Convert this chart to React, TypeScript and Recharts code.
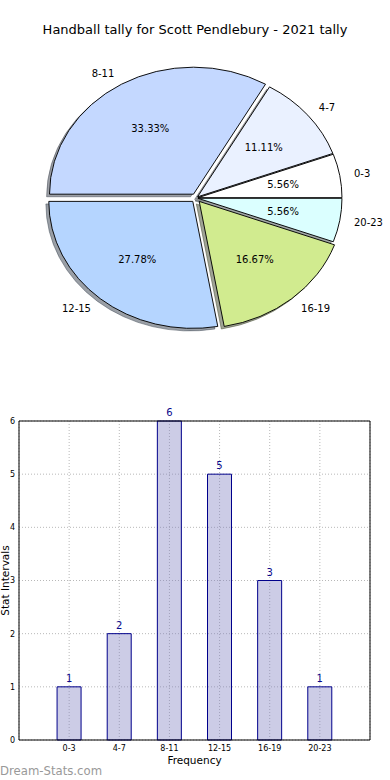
import React from 'react';
import { PieChart, Pie, Cell, BarChart, Bar, XAxis, YAxis, CartesianGrid, LabelList, Label, ReferenceLine } from 'recharts';

// ---- data ----
const categories = ['0-3', '4-7', '8-11', '12-15', '16-19', '20-23'];
const counts = [1, 2, 6, 5, 3, 1];
const yTicks = [0, 1, 2, 3, 4, 5, 6];
const titleText = 'Handball tally for Scott Pendlebury - 2021 tally';

// ---- styles ----
const sliceColors = ['#ffffff', '#eaf1ff', '#c4d8ff', '#b5d5ff', '#d1eb8f', '#dbffff'];
const explodePx = [2, 2, 5, 5, 5, 2];
const FONT = '"DejaVu Sans", sans-serif';
const CX = 196;
const CY = 198;
const R = 144;
const K = 127 / 144;
const SHADOW = 2.9;

const pieData = categories.map((name, i) => ({ name, value: counts[i] }));
const barData = categories.map((name, i) => ({ x: i + 1, name, v: counts[i] }));
const xTicks = categories.map((_, i) => i + 1);

const total = counts.reduce((a, b) => a + b, 0);
const offsets = (() => {
  let acc = 0;
  return counts.map((c, i) => {
    const mid = ((acc + c / 2) / total) * 360;
    acc += c;
    const rad = (mid * Math.PI) / 180;
    return { dx: explodePx[i] * Math.cos(rad), dy: -explodePx[i] * Math.sin(rad) };
  });
})();

function shade(hex: string) {
  const n = parseInt(hex.slice(1), 16);
  const r = (n >> 16) & 255;
  const g = (n >> 8) & 255;
  const b = n & 255;
  return `rgb(${Math.round(r * 0.3)},${Math.round(g * 0.3)},${Math.round(b * 0.3)})`;
}

function makeLabel(i: number) {
  return (p: any) => {
    if (p.index !== i) return null;
    const rad = (p.midAngle * Math.PI) / 180;
    const c = Math.cos(rad);
    const s = Math.sin(rad);
    const r = p.outerRadius;
    const lx = p.cx + 1.1 * r * c;
    const ly = p.cy - 1.1 * r * s;
    const px = p.cx + 0.6 * r * c;
    const py = p.cy - 0.6 * r * s;
    return (
      <g>
        <text
          transform={`translate(${lx} ${ly}) scale(1 ${1 / K})`}
          textAnchor={c > 0 ? 'start' : 'end'}
          dominantBaseline="central"
          fontSize={10}
          fill="#000"
          fontFamily={FONT}
        >
          {p.name}
        </text>
        <text
          transform={`translate(${px} ${py}) scale(1 ${1 / K})`}
          textAnchor="middle"
          dominantBaseline="central"
          fontSize={10}
          fill="#000"
          fontFamily={FONT}
        >
          {`${(p.percent * 100).toFixed(2)}%`}
        </text>
      </g>
    );
  };
}

export default function App() {
  return (
    <div style={{ position: 'absolute', left: 0, top: 0, width: 390, height: 780, background: '#fff', fontFamily: FONT, overflow: 'hidden' }}>
      <div style={{ position: 'absolute', left: 0, top: 22, width: 390, textAlign: 'center', fontSize: 13, lineHeight: '15px', color: '#000' }}>
        {titleText}
      </div>

      <div style={{ position: 'absolute', left: 0, top: 0, width: 390, height: 370, transform: `scaleY(${K})`, transformOrigin: `${CX}px ${CY}px` }}>
        <PieChart width={390} height={370} margin={{ top: 0, right: 0, bottom: 0, left: 0 }}>
          {pieData.map((_, i) => (
            <Pie
              key={'s' + i}
              data={pieData}
              dataKey="value"
              nameKey="name"
              cx={CX + offsets[i].dx - SHADOW}
              cy={CY + offsets[i].dy + SHADOW}
              outerRadius={R}
              startAngle={0}
              endAngle={360}
              isAnimationActive={false}
              label={false}
              labelLine={false}
            >
              {pieData.map((__, j) => (
                <Cell
                  key={j}
                  fill={j === i ? shade(sliceColors[i]) : 'none'}
                  fillOpacity={0.5}
                  stroke={j === i ? shade(sliceColors[i]) : 'none'}
                  strokeOpacity={0.5}
                  strokeWidth={1}
                />
              ))}
            </Pie>
          ))}
          {pieData.map((_, i) => (
            <Pie
              key={'p' + i}
              data={pieData}
              dataKey="value"
              nameKey="name"
              cx={CX + offsets[i].dx}
              cy={CY + offsets[i].dy}
              outerRadius={R}
              startAngle={0}
              endAngle={360}
              isAnimationActive={false}
              label={makeLabel(i)}
              labelLine={false}
            >
              {pieData.map((__, j) => (
                <Cell
                  key={j}
                  fill={j === i ? sliceColors[i] : 'none'}
                  stroke={j === i ? '#000' : 'none'}
                  strokeWidth={1}
                />
              ))}
            </Pie>
          ))}
        </PieChart>
      </div>

      <div style={{ position: 'absolute', left: 0, top: 400 }}>
        <BarChart width={390} height={380} data={barData} margin={{ top: 21, right: 20, left: 0, bottom: 0 }}>
          <CartesianGrid stroke="#b8b8b8" strokeDasharray="1 2" />
          <XAxis
            dataKey="x"
            type="number"
            domain={[0, xTicks.length + 1]}
            ticks={xTicks}
            tickFormatter={(v: number) => categories[v - 1]}
            tickLine={false}
            tickSize={0}
            tickMargin={5}
            axisLine={{ stroke: '#000' }}
            tick={{ fontSize: 8, fill: '#000', fontFamily: FONT }}
            height={40}
            interval={0}
          >
            <Label
              content={(props: any) => {
                const vb = props.viewBox;
                return (
                  <text x={vb.x + vb.width / 2} y={vb.y + 24} textAnchor="middle" fontSize={10.5} fill="#000" fontFamily={FONT}>
                    Frequency
                  </text>
                );
              }}
            />
          </XAxis>
          <YAxis
            type="number"
            domain={[0, 6]}
            ticks={yTicks}
            width={19}
            tickLine={false}
            tickSize={0}
            tickMargin={4}
            axisLine={{ stroke: '#000' }}
            tick={{ fontSize: 8, fill: '#000', fontFamily: FONT }}
            interval={0}
          >
            <Label
              content={(props: any) => {
                const vb = props.viewBox;
                return (
                  <text
                    transform={`translate(${vb.x + 9} ${vb.y + vb.height / 2}) rotate(-90)`}
                    textAnchor="middle"
                    fontSize={10.5}
                    fill="#000"
                    fontFamily={FONT}
                  >
                    Stat Intervals
                  </text>
                );
              }}
            />
          </YAxis>
          <ReferenceLine y={6} stroke="#000" strokeWidth={1} />
          <ReferenceLine x={xTicks.length + 1} stroke="#000" strokeWidth={1} />
          <Bar dataKey="v" barSize={24} fill="#8080c0" fillOpacity={0.4} stroke="#00008b" strokeWidth={1} isAnimationActive={false}>
            <LabelList dataKey="v" position="top" offset={5} fill="#0a0a8c" fontSize={10} fontFamily={FONT} />
          </Bar>
        </BarChart>
      </div>

      <div style={{ position: 'absolute', left: 0, top: 764, fontSize: 11.7, lineHeight: '14px', color: '#999' }}>
        Dream-Stats.com
      </div>
    </div>
  );
}
